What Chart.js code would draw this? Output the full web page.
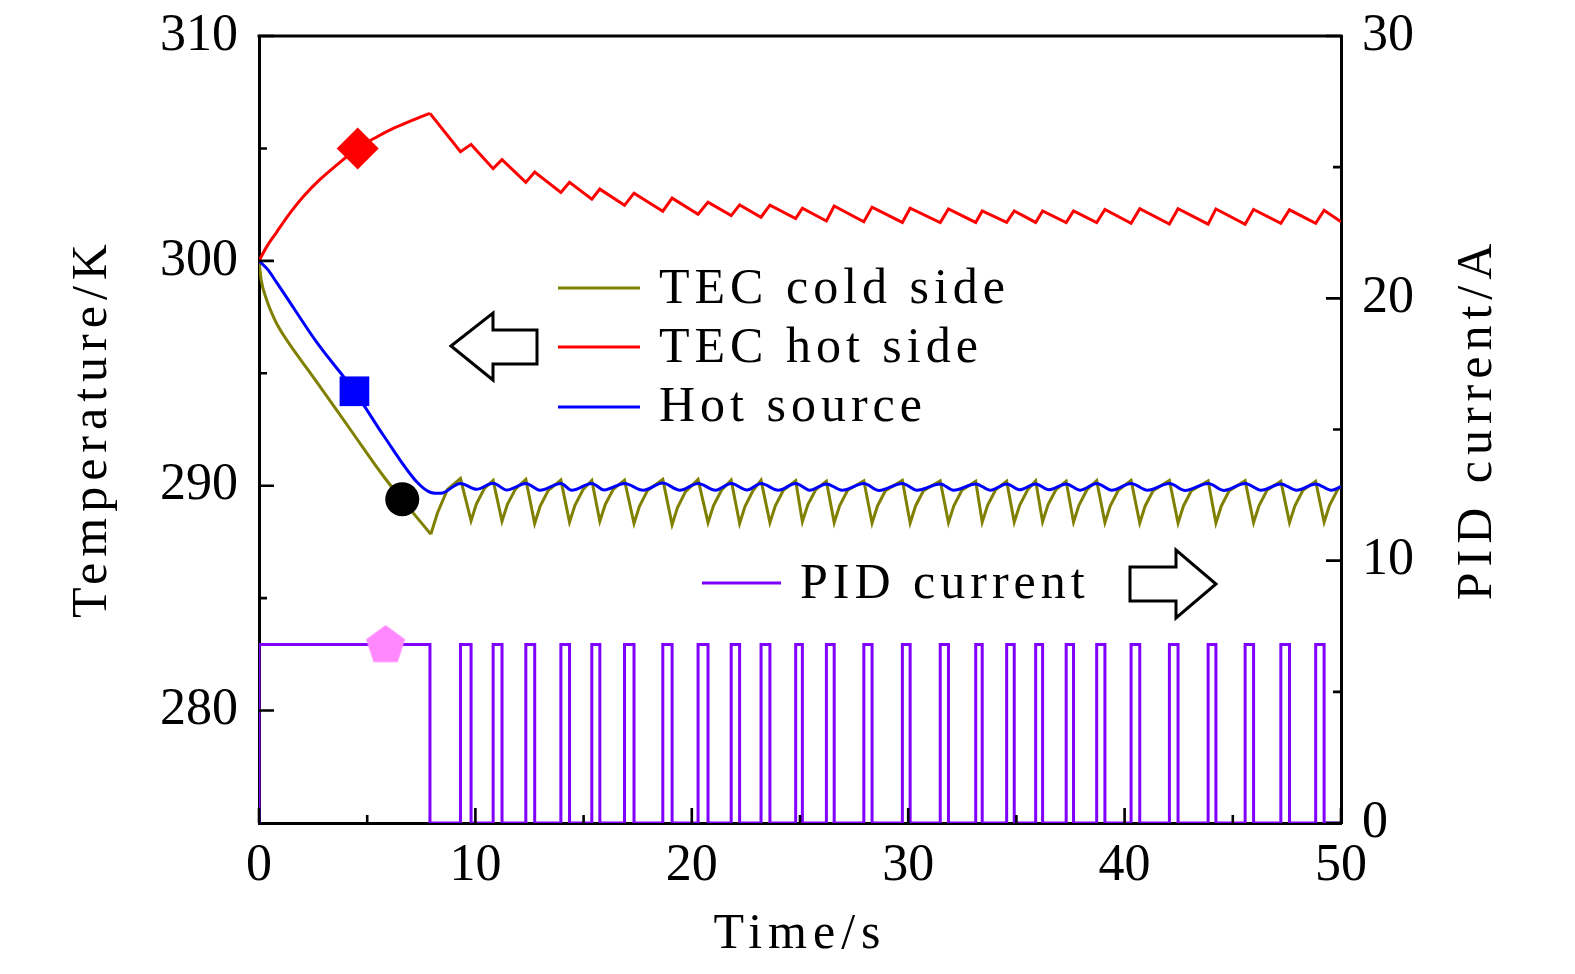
<!DOCTYPE html>
<html>
<head>
<meta charset="utf-8">
<script src="https://cdn.jsdelivr.net/npm/chart.js@4.4.1/dist/chart.umd.min.js"></script>
<style>
  html, body { margin: 0; padding: 0; background: #fff; }
  canvas { display: block; }
</style>
</head>
<body>
<canvas id="chart" width="1575" height="974"></canvas>
<script>
// axis ticks
const xTicks = [0, 10, 20, 30, 40, 50];
const xMinor = [5, 15, 25, 35, 45];
const tempTicks = [280, 290, 300, 310];
const tempMinor = [285, 295, 305];
const currTicks = [0, 10, 20, 30];
const currMinor = [5, 15, 25];

// PID current: on from 0 s to pidFirstOff, then short pulses
const pidHigh = 6.8;
const pidFirstOff = 7.9;
const pulseOn = [9.31, 10.82, 12.33, 13.95, 15.38, 16.89, 18.66, 20.29, 21.82, 23.20, 24.80, 26.22, 27.95,
                 29.73, 31.48, 33.12, 34.55, 35.89, 37.30, 38.71, 40.30, 42.07, 43.86, 45.57, 47.22, 48.83];
const pulseOff = [9.80, 11.23, 12.74, 14.35, 15.75, 17.33, 19.09, 20.75, 22.21, 23.61, 25.11, 26.58, 28.33,
                  30.09, 31.86, 33.42, 34.90, 36.21, 37.64, 39.09, 40.70, 42.47, 44.22, 45.96, 47.62, 49.22];

// TEC hot side (red)
const redRiseT = [0, 0.34, 0.81, 1.43, 2.05, 2.82, 3.6, 4.56, 5.46, 6.23, 7.16, 7.9];
const redRiseV = [300, 300.6, 301.27, 302.12, 302.86, 303.62, 304.27, 305.01, 305.52, 305.9, 306.28, 306.56];
const redMin = [304.85, 304.10, 303.49, 303.04, 302.74, 302.47, 302.21, 302.07, 302.01, 301.94, 301.88, 301.77, 301.74,
                301.71, 301.70, 301.71, 301.71, 301.71, 301.70, 301.70, 301.67, 301.64, 301.63, 301.63, 301.67, 301.67];
const redMax = [305.18, 304.50, 303.95, 303.49, 303.19, 303.01, 302.79, 302.61, 302.49, 302.48, 302.34, 302.44, 302.39,
                302.34, 302.31, 302.22, 302.22, 302.22, 302.22, 302.29, 302.32, 302.32, 302.31, 302.29, 302.27, 302.25];
const redEnd = 301.74;

// Hot source (blue)
const blueHeadT = [0, 0.4, 0.82, 1.13, 2.68, 4.41, 5.77, 7.32, 7.94, 8.4];
const blueHeadV = [300, 299.62, 299.03, 298.59, 296.36, 294.21, 292.21, 290.14, 289.7, 289.66];
const bluePeakV = [290.1, 290.11, 290.1, 290.1, 290.1, 290.1, 290.12, 290.1, 290.1, 290.1, 290.1, 290.08, 290.1,
                   290.1, 290.08, 290.08, 290.08, 290.08, 290.08, 290.1, 290.1, 290.1, 290.1, 290.1, 290.08, 290.08];
const blueTroughT = [10.05, 11.45, 12.98, 14.45, 15.95, 17.75, 19.45, 21.1, 22.55, 24.0, 25.45, 26.95, 28.65,
                     30.4, 32.1, 33.8, 35.15, 36.5, 37.95, 39.4, 41.05, 42.8, 44.6, 46.3, 47.95, 49.55];
const blueTroughV = [289.84, 289.81, 289.8, 289.8, 289.81, 289.8, 289.8, 289.8, 289.81, 289.8, 289.8, 289.8, 289.79,
                     289.8, 289.8, 289.8, 289.82, 289.82, 289.8, 289.8, 289.8, 289.79, 289.79, 289.8, 289.8, 289.8];
const blueEnd = 289.96;

// TEC cold side (olive)
const oliveHeadT = [0, 0.11, 0.36, 0.6, 0.82, 1.13, 1.44, 2.0, 2.68, 4.22, 5.77, 7.94];
const oliveHeadV = [300, 299.1, 298.25, 297.65, 297.2, 296.7, 296.25, 295.5, 294.6, 292.5, 290.4, 287.84];
const oliveStartT = [7.94, 8.25, 8.71];
const oliveStartV = [287.84, 288.8, 289.84];
const olivePeakV = [290.32, 290.24, 290.28, 290.25, 290.24, 290.25, 290.28, 290.28, 290.25, 290.24, 290.22, 290.2, 290.22,
                    290.24, 290.22, 290.2, 290.2, 290.22, 290.2, 290.22, 290.24, 290.24, 290.22, 290.22, 290.2, 290.2];
const oliveTroughV = [288.44, 288.42, 288.32, 288.38, 288.42, 288.32, 288.27, 288.36, 288.32, 288.36, 288.4, 288.36, 288.34,
                      288.34, 288.36, 288.38, 288.38, 288.4, 288.38, 288.36, 288.34, 288.34, 288.34, 288.36, 288.36, 288.38];
const oliveKneeT = [10.05, 11.48, 12.99, 14.6, 16.0, 17.58, 19.34, 21.0, 22.46, 23.86, 25.36, 26.83, 28.58,
                    30.34, 32.11, 33.67, 35.15, 36.46, 37.89, 39.34, 40.95, 42.72, 44.47, 46.21, 47.87, 49.47];
const oliveKneeV = [289.2, 289.17, 289.08, 289.13, 289.16, 289.08, 289.03, 289.11, 289.08, 289.11, 289.15, 289.11, 289.1,
                    289.1, 289.11, 289.13, 289.13, 289.15, 289.13, 289.11, 289.1, 289.1, 289.1, 289.11, 289.11, 289.13];
const oliveKnee2T = [10.42, 11.85, 13.36, 14.97, 16.37, 17.95, 19.71, 21.37, 22.83, 24.23, 25.73, 27.2, 28.95,
                     30.71, 32.48, 34.04, 35.52, 36.83, 38.26, 39.71, 41.32, 43.09, 44.84, 46.58, 48.24, 49.84];
const oliveKnee2V = [289.88, 289.85, 289.78, 289.82, 289.84, 289.78, 289.74, 289.8, 289.78, 289.8, 289.83, 289.8, 289.78,
                     289.78, 289.8, 289.82, 289.82, 289.83, 289.82, 289.8, 289.78, 289.78, 289.78, 289.8, 289.8, 289.82];
const oliveEnd = 290.0;

// symbols on the curves: hot side, hot source, cold side, PID current
const markT = [4.56, 4.41, 6.62, 5.85];
const markV = [305.0, 294.2, 289.4, 6.8];

const pts = (xs, ys) => xs.map((x, i) => ({ x: x, y: ys[i] }));

const pid = [{ x: 0, y: 0 }, { x: 0, y: pidHigh }, { x: pidFirstOff, y: pidHigh }, { x: pidFirstOff, y: 0 }];
pulseOn.forEach((t, i) => {
  pid.push({ x: t, y: 0 }, { x: t, y: pidHigh }, { x: pulseOff[i], y: pidHigh }, { x: pulseOff[i], y: 0 });
});
pid.push({ x: 50, y: 0 });

const redSaw = [{ x: redRiseT[redRiseT.length - 1], y: redRiseV[redRiseV.length - 1] }];
pulseOn.forEach((t, i) => {
  redSaw.push({ x: t, y: redMin[i] }, { x: pulseOff[i], y: redMax[i] });
});
redSaw.push({ x: 50, y: redEnd });

const blue = pts(blueHeadT, blueHeadV);
pulseOn.forEach((t, i) => {
  blue.push({ x: t, y: bluePeakV[i] }, { x: blueTroughT[i], y: blueTroughV[i] });
});
blue.push({ x: 50, y: blueEnd });

const oliveSaw = pts(oliveStartT, oliveStartV);
pulseOn.forEach((t, i) => {
  oliveSaw.push({ x: t, y: olivePeakV[i] }, { x: pulseOff[i], y: oliveTroughV[i] },
                { x: oliveKneeT[i], y: oliveKneeV[i] }, { x: oliveKnee2T[i], y: oliveKnee2V[i] });
});
oliveSaw.push({ x: 50, y: oliveEnd });

// pentagon symbol for the PID curve
const penta = document.createElement('canvas');
penta.width = 44; penta.height = 44;
(function () {
  const c = penta.getContext('2d');
  c.fillStyle = '#ff88ff';
  c.beginPath();
  for (let k = 0; k < 5; k++) {
    const a = -Math.PI / 2 + k * 2 * Math.PI / 5;
    const px = 22 + 20.5 * Math.cos(a), py = 23 + 20.5 * Math.sin(a);
    k ? c.lineTo(px, py) : c.moveTo(px, py);
  }
  c.closePath();
  c.fill();
})();

const OLIVE = '#808000', RED = '#ff0000', BLUE = '#0000ff', PURPLE = '#8000ff';
const FONT = "'Liberation Serif', 'Times New Roman', serif";

function marker(i, style, color, r, axis) {
  return {
    data: [{ x: markT[i], y: markV[i] }], yAxisID: axis, showLine: false,
    pointStyle: style, pointRadius: r, pointBackgroundColor: color, pointBorderColor: color, pointBorderWidth: 0
  };
}
function curve(data, color, axis, smooth) {
  return {
    data: data, yAxisID: axis, borderColor: color, borderWidth: 3, pointRadius: 0,
    tension: 0, cubicInterpolationMode: smooth ? 'monotone' : 'default', fill: false
  };
}

const decor = {
  id: 'decor',
  afterDatasetsDraw(chart) {
    const ctx = chart.ctx, a = chart.chartArea;
    const x = chart.scales.x, y = chart.scales.y, y1 = chart.scales.y1;
    ctx.save();
    ctx.strokeStyle = '#000';
    ctx.lineWidth = 2.6;
    ctx.beginPath();
    const tick = (vals, len) => {
      vals.forEach(v => { const p = x.getPixelForValue(v); ctx.moveTo(p, a.bottom); ctx.lineTo(p, a.bottom - len); });
    };
    const tickL = (vals, len) => {
      vals.forEach(v => { const p = y.getPixelForValue(v); ctx.moveTo(a.left, p); ctx.lineTo(a.left + len, p); });
    };
    const tickR = (vals, len) => {
      vals.forEach(v => { const p = y1.getPixelForValue(v); ctx.moveTo(a.right, p); ctx.lineTo(a.right - len, p); });
    };
    tick(xTicks, 15); tick(xMinor, 8);
    tickL(tempTicks, 15); tickL(tempMinor, 8);
    tickR(currTicks, 15); tickR(currMinor, 8);
    ctx.stroke();
    ctx.lineWidth = 3;
    ctx.beginPath();
    ctx.moveTo(a.left - 1.5, a.top);
    ctx.lineTo(a.right + 1.5, a.top);
    ctx.stroke();
    ctx.restore();
  },
  afterDraw(chart) {
    const ctx = chart.ctx;
    ctx.save();
    ctx.fillStyle = '#000';
    ctx.font = '50px ' + FONT;
    ctx.letterSpacing = '5px';
    ctx.textBaseline = 'alphabetic';

    // legend (temperatures)
    const rows = [['TEC cold side', OLIVE, 288, 303], ['TEC hot side', RED, 347, 362], ['Hot source', BLUE, 407, 421]];
    rows.forEach(r => {
      ctx.strokeStyle = r[1];
      ctx.lineWidth = 2.8;
      ctx.beginPath(); ctx.moveTo(558, r[2]); ctx.lineTo(640, r[2]); ctx.stroke();
      ctx.textAlign = 'left';
      ctx.fillText(r[0], 659, r[3]);
    });
    // legend (current)
    ctx.strokeStyle = PURPLE;
    ctx.beginPath(); ctx.moveTo(702, 583); ctx.lineTo(781, 583); ctx.stroke();
    ctx.fillText('PID current', 800, 598);

    // arrows
    ctx.strokeStyle = '#000';
    ctx.lineWidth = 3;
    ctx.lineJoin = 'miter';
    const poly = p => {
      ctx.beginPath();
      p.forEach((q, i) => i ? ctx.lineTo(q[0], q[1]) : ctx.moveTo(q[0], q[1]));
      ctx.closePath();
      ctx.fillStyle = '#fff'; ctx.fill(); ctx.stroke();
    };
    poly([[451, 346], [493, 313], [493, 330], [537, 330], [537, 364], [493, 364], [493, 380]]);
    poly([[1130, 567], [1176, 567], [1176, 550], [1216, 584], [1176, 618], [1176, 601], [1130, 601]]);

    // axis titles
    ctx.fillStyle = '#000';
    ctx.textAlign = 'center';
    ctx.letterSpacing = '6px';
    ctx.fillText('Time/s', 800, 948);
    ctx.save();
    ctx.translate(106, 428);
    ctx.rotate(-Math.PI / 2);
    ctx.fillText('Temperature/K', 0, 0);
    ctx.restore();
    ctx.save();
    ctx.translate(1491, 419);
    ctx.rotate(-Math.PI / 2);
    ctx.fillText('PID current/A', 0, 0);
    ctx.restore();
    ctx.restore();
  }
};

const tickFont = { family: FONT, size: 52 };
const noPadV = s => { s.paddingTop = 0; s.paddingBottom = 0; };

new Chart(document.getElementById('chart'), {
  type: 'line',
  data: {
    datasets: [
      marker(0, 'rectRot', RED, 21, 'y'),
      marker(1, 'rect', BLUE, 21, 'y'),
      marker(2, 'circle', '#000', 17, 'y'),
      marker(3, penta, '#ff88ff', 20, 'y1'),
      curve(pts(redRiseT, redRiseV), RED, 'y', true),
      curve(redSaw, RED, 'y', false),
      curve(blue, BLUE, 'y', true),
      curve(pts(oliveHeadT, oliveHeadV), OLIVE, 'y', true),
      curve(oliveSaw, OLIVE, 'y', false),
      curve(pid, PURPLE, 'y1', false)
    ]
  },
  options: {
    responsive: false,
    animation: false,
    devicePixelRatio: 1,
    layout: { padding: { top: 36, left: 0, right: 0, bottom: 0 } },
    plugins: { legend: { display: false }, tooltip: { enabled: false }, title: { display: false } },
    scales: {
      x: {
        type: 'linear', min: 0, max: 50,
        grid: { display: false, drawTicks: false },
        border: { display: true, color: '#000', width: 3 },
        ticks: { font: tickFont, color: '#000', padding: 12, maxRotation: 0 },
        afterBuildTicks: s => { s.ticks = xTicks.map(v => ({ value: v })); },
        afterFit: s => { s.height = 151; s.paddingLeft = 0; s.paddingRight = 0; }
      },
      y: {
        type: 'linear', position: 'left', min: 275, max: 310,
        grid: { display: false, drawTicks: false },
        border: { display: true, color: '#000', width: 3 },
        ticks: { font: tickFont, color: '#000', padding: 21 },
        afterBuildTicks: s => { s.ticks = tempTicks.map(v => ({ value: v })); },
        afterFit: s => { s.width = 259; noPadV(s); }
      },
      y1: {
        type: 'linear', position: 'right', min: 0, max: 30,
        grid: { display: false, drawTicks: false },
        border: { display: true, color: '#000', width: 3 },
        ticks: { font: tickFont, color: '#000', padding: 21 },
        afterBuildTicks: s => { s.ticks = currTicks.map(v => ({ value: v })); },
        afterFit: s => { s.width = 234; noPadV(s); }
      }
    }
  },
  plugins: [decor]
});
</script>
</body>
</html>
